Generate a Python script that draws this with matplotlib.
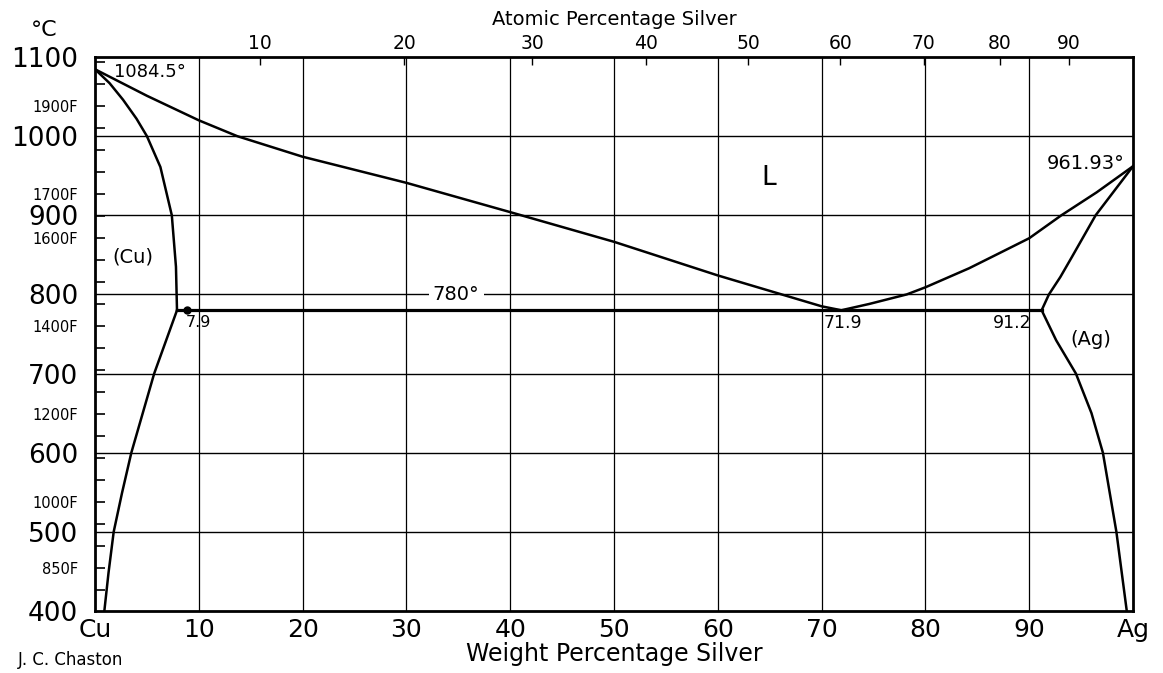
import numpy as np
import matplotlib
matplotlib.use("Agg")
import matplotlib.pyplot as plt
from matplotlib.ticker import FixedLocator, FuncFormatter

plt.rcParams['font.family'] = ['DejaVu Sans']

# Cu-Ag phase diagram, weight % Ag vs temperature in deg C
liq_cu_wt = [0, 5, 10, 13.7, 20, 30, 40, 50, 60, 70, 71.9]
liq_cu_t = [1084.5, 1051, 1020, 1000, 974, 941, 904, 866.5, 824, 785, 780]

liq_ag_wt = [71.9, 74.6, 78.2, 80, 84.2, 86.8, 90, 93.1, 96.5, 100]
liq_ag_t = [780, 788, 800, 809, 833, 850, 871, 900, 929, 961.93]

sol_cu_wt = [0, 1.4, 2.7, 4.0, 5.0, 6.3, 7.4, 7.8, 7.9]
sol_cu_t = [1084.5, 1067, 1046, 1022, 1000, 961, 900, 835, 780]

solv_cu_wt = [7.9, 6.8, 5.7, 4.6, 3.5, 2.6, 1.8, 1.3, 0.9]
solv_cu_t = [780, 740, 700, 650, 600, 549, 500, 448, 400]

sol_ag_wt = [91.2, 91.9, 93.0, 94.1, 96.4, 100]
sol_ag_t = [780, 800, 822, 847, 900, 961.93]

solv_ag_wt = [91.2, 92.6, 94.5, 96.0, 97.1, 98.4, 99.4]
solv_ag_t = [780, 742, 700, 650, 600, 500, 400]

eutectic_t = 780
eutectic_wt = [7.9, 91.2]

c_ticks = [400, 500, 600, 700, 800, 900, 1000, 1100]
wt_ticks = [0, 10, 20, 30, 40, 50, 60, 70, 80, 90, 100]
wt_labels = ['Cu', '10', '20', '30', '40', '50', '60', '70', '80', '90', 'Ag']
at_ticks = [10, 20, 30, 40, 50, 60, 70, 80, 90]
f_ticks = list(range(800, 2001, 50))
f_labeled = [850, 1000, 1200, 1400, 1600, 1700, 1900]

M_AG = 107.87
M_CU = 63.546


def wt2at(w):
    w = np.clip(np.asarray(w, dtype=float), 1e-9, 100 - 1e-9)
    a = w / M_AG
    c = (100 - w) / M_CU
    return 100 * a / (a + c)


def at2wt(x):
    x = np.clip(np.asarray(x, dtype=float), 1e-9, 100 - 1e-9)
    a = x * M_AG
    c = (100 - x) * M_CU
    return 100 * a / (a + c)


def c2f(t):
    return np.asarray(t, dtype=float) * 9 / 5 + 32


def f2c(t):
    return (np.asarray(t, dtype=float) - 32) * 5 / 9


fig = plt.figure(figsize=(11.63, 6.73), dpi=100)
ax = fig.add_axes([95 / 1163, 1 - 611 / 673, 1038 / 1163, 554 / 673])
ax.set_xlim(0, 100)
ax.set_ylim(400, 1100)

# grid
for t in c_ticks[1:-1]:
    ax.axhline(t, color='black', lw=1.0, zorder=1)
for w in wt_ticks[1:-1]:
    ax.axvline(w, color='black', lw=0.9, zorder=1)

lw = 1.8
ax.plot(liq_cu_wt, liq_cu_t, color='black', lw=lw)
ax.plot(liq_ag_wt, liq_ag_t, color='black', lw=lw)
ax.plot(sol_cu_wt, sol_cu_t, color='black', lw=lw)
ax.plot(solv_cu_wt, solv_cu_t, color='black', lw=lw)
ax.plot(sol_ag_wt, sol_ag_t, color='black', lw=lw)
ax.plot(solv_ag_wt, solv_ag_t, color='black', lw=lw)
ax.plot(eutectic_wt, [eutectic_t, eutectic_t], color='black', lw=2.3)
ax.plot([8.9], [eutectic_t], 'o', color='black', ms=5)

for s in ax.spines.values():
    s.set_linewidth(2)

# bottom: weight percent
ax.set_xticks(wt_ticks)
ax.set_xticklabels(wt_labels, fontsize=18)
ax.tick_params(axis='x', length=0, pad=5)
ax.set_xlabel('Weight Percentage Silver', fontsize=17, labelpad=0)

# left: deg C
ax.set_yticks(c_ticks)
ax.set_yticklabels([str(t) for t in c_ticks], fontsize=19)
ax.tick_params(axis='y', length=0, pad=12)

# left: deg F ticks every 50 F
axf = ax.secondary_yaxis('left', functions=(c2f, f2c))
axf.yaxis.set_major_locator(FixedLocator(f_ticks))
axf.yaxis.set_major_formatter(FuncFormatter(
    lambda v, p: f'{int(round(v))}F' if int(round(v)) in f_labeled else ''))
axf.tick_params(axis='y', direction='in', length=7, width=1.2, pad=12, labelsize=10.5)
axf.spines['left'].set_visible(False)

# top: atomic percent
axa = ax.secondary_xaxis('top', functions=(wt2at, at2wt))
axa.set_xticks(at_ticks)
axa.set_xticklabels([str(a) for a in at_ticks], fontsize=13.5)
axa.tick_params(axis='x', direction='in', length=6, width=1.0, pad=3)
axa.spines['top'].set_visible(False)
axa.set_xlabel('Atomic Percentage Silver', fontsize=14, labelpad=6)

# annotations
ax.text(1.8, 1081, '1084.5°', fontsize=13, va='center', ha='left')
ax.text(1.7, 847, '(Cu)', fontsize=14, va='center', ha='left')
ax.text(8.7, 764, '7.9', fontsize=11.5, va='center', ha='left')
ax.text(64.9, 947, 'L', fontsize=19, va='center', ha='center')
ax.text(99.2, 965, '961.93°', fontsize=14, va='center', ha='right')
ax.text(70.2, 764, '71.9', fontsize=12.5, va='center', ha='left')
ax.text(90.2, 764, '91.2', fontsize=12.5, va='center', ha='right')
ax.text(94.0, 743, '(Ag)', fontsize=14, va='center', ha='left')
ax.text(34.8, 800, '780°', fontsize=14, va='center', ha='center',
        bbox=dict(facecolor='white', edgecolor='none', pad=3))

fig.text(44 / 1163, 1 - 30 / 673, '°C', fontsize=16, ha='center', va='center')
fig.text(18 / 1163, 1 - 660 / 673, 'J. C. Chaston', fontsize=12, ha='left', va='center')

fig.savefig('out.png', dpi=100)
